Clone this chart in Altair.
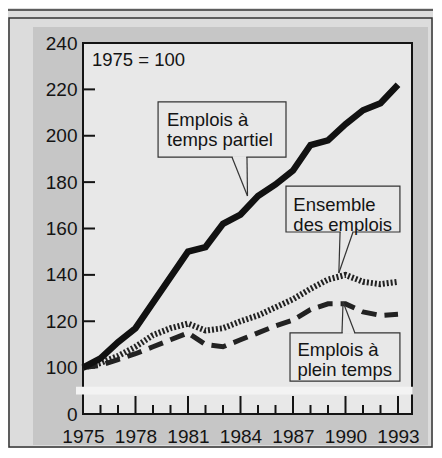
import altair as alt
import pandas as pd

# ---- data ----
years = list(range(1975, 1994))
partiel = [100, 104, 111, 117, 128, 139, 150, 152, 162, 166, 174, 179, 185, 196, 198, 205, 211, 214, 222]
ensemble = [100, 102, 105, 109, 114, 117, 119, 116, 117, 120, 122.5, 126, 129.5, 134, 138, 140, 137, 136, 137]
plein = [100, 101, 103.5, 106, 109, 112, 115, 110, 109, 112, 115, 118, 120.5, 125, 127.5, 127.5, 124, 122.5, 123]

y_ticks = [80, 100, 120, 140, 160, 180, 200, 220, 240]
x_labels = [1975, 1978, 1981, 1984, 1987, 1990, 1993]
major_years = [1978, 1981, 1984, 1987, 1990, 1993]
minor_years = [y for y in years[1:] if y not in major_years]
inner_y_ticks = [100, 120, 140, 160, 180, 200, 220]

FONT = "Liberation Sans"
FS = 19
INK = "#141414"
W, H = 329, 371

xs = alt.Scale(domain=[1975, 1993.8], nice=False, zero=False)
ys = alt.Scale(domain=[80, 240], nice=False, zero=False)
xaxis = alt.Axis(values=x_labels, format="d", title=None, domain=False, ticks=False, grid=False,
                 labelFontSize=FS, labelFont=FONT, labelColor=INK, labelPadding=13, labelFlush=False,
                 zindex=3)
yaxis = alt.Axis(values=y_ticks, labelExpr="datum.value == 80 ? '0' : datum.label", title=None,
                 domain=False, ticks=False, grid=False, labelFontSize=FS, labelFont=FONT,
                 labelColor=INK, labelPadding=6, zindex=3)


def X(f):
    return alt.X(f, type="quantitative", scale=xs, axis=xaxis)


def Y(f):
    return alt.Y(f, type="quantitative", scale=ys, axis=yaxis)


one = pd.DataFrame({"a": [0]})

# decorations around the plot (page furniture)
outer = alt.Chart(one).mark_rect(fill="#dcdcdc", stroke="#333", strokeWidth=1.5).encode(
    x=alt.value(-74), x2=alt.value(W + 20), y=alt.value(-25), y2=alt.value(H + 33))
topline = alt.Chart(one).mark_rule(color="#333", strokeWidth=1.5).encode(
    x=alt.value(-75), x2=alt.value(W + 21), y=alt.value(-33))
shade = alt.Chart(one).mark_rect(fill="#c6c6c6").encode(
    x=alt.value(-50), x2=alt.value(W + 16), y=alt.value(-16), y2=alt.value(H + 31))

# plot frame
frame_df = pd.DataFrame({"x0": [1975], "x1": [1993.8], "y0": [80], "y1": [240]})
frame = alt.Chart(frame_df).mark_rect(fill="#e8e8e8", stroke=INK, strokeWidth=2).encode(
    x=X("x0"), x2="x1", y=Y("y0"), y2="y1")

# inward ticks
yt = alt.Chart(pd.DataFrame({"v": inner_y_ticks})).mark_rule(color=INK, strokeWidth=2).encode(
    y=Y("v"), x=alt.value(0), x2=alt.value(12))
xt_major = alt.Chart(pd.DataFrame({"yr": major_years})).mark_rule(color=INK, strokeWidth=2).encode(
    x=X("yr"), y=alt.value(H), y2=alt.value(H - 18))
xt_minor = alt.Chart(pd.DataFrame({"yr": minor_years})).mark_rule(color=INK, strokeWidth=2).encode(
    x=X("yr"), y=alt.value(H), y2=alt.value(H - 9))

# series
df = pd.DataFrame({"year": years, "partiel": partiel, "ensemble": ensemble, "plein": plein})
l_plein = alt.Chart(df).mark_line(color="#222", strokeWidth=5, strokeDash=[15, 8]).encode(
    x=X("year"), y=Y("plein"))
l_ens = alt.Chart(df).mark_line(color="#222", strokeWidth=6, strokeDash=[2, 2]).encode(
    x=X("year"), y=Y("ensemble"))
l_part = alt.Chart(df).mark_line(color="#111", strokeWidth=6.5).encode(
    x=X("year"), y=Y("partiel"))

# axis break band
band_df = pd.DataFrame({"x0": [1974.6], "x1": [1993.85], "y0": [88.4], "y1": [91.8]})
band = alt.Chart(band_df).mark_rect(fill="#f3f3f3").encode(
    x=X("x0"), x2="x1", y=Y("y0"), y2="y1")

# callout boxes
boxes_df = pd.DataFrame({
    "x0": [1979.29, 1986.6, 1986.83],
    "x1": [1986.6, 1993.11, 1993.11],
    "y0": [190.8, 158.5, 94.2],
    "y1": [214.6, 178.3, 114.95],
})
boxes = alt.Chart(boxes_df).mark_rect(fill="#e8e8e8", stroke="#333", strokeWidth=1.2).encode(
    x=X("x0"), x2="x1", y=Y("y0"), y2="y1")

gap_df = pd.DataFrame({"x0": [1983.55, 1989.73, 1989.84], "x1": [1984.33, 1990.39, 1990.5],
                       "y": [190.8, 158.5, 114.95]})
gaps = alt.Chart(gap_df).mark_rule(color="#e8e8e8", strokeWidth=2).encode(
    x=X("x0"), x2="x1", y=Y("y"))

ptr_df = pd.DataFrame({
    "x0": [1983.51, 1984.37, 1989.69, 1990.43, 1989.8, 1990.54],
    "y0": [190.8, 190.8, 158.5, 158.5, 114.95, 114.95],
    "x1": [1984.4, 1984.4, 1989.62, 1989.62, 1989.86, 1989.86],
    "y1": [174.0, 174.0, 140.8, 140.8, 128.3, 128.3],
})
ptrs = alt.Chart(ptr_df).mark_rule(color="#333", strokeWidth=1.2).encode(
    x=X("x0"), y=Y("y0"), x2="x1", y2="y1")

txt_df = pd.DataFrame({
    "t": ["Emplois à", "temps partiel", "Ensemble", "des emplois", "Emplois à", "plein temps", "1975 = 100"],
    "x": [1979.8, 1979.8, 1987.02, 1987.02, 1987.25, 1987.25, 1975.51],
    "y": [206.6, 198.0, 170.1, 161.5, 107.6, 99.0, 232.7],
})
texts = alt.Chart(txt_df).mark_text(align="left", baseline="middle", font=FONT, fontSize=18.5, color=INK).encode(
    x=X("x"), y=Y("y"), text="t:N")

chart = alt.layer(
    outer, topline, shade, frame, yt, xt_major, xt_minor,
    l_plein, l_ens, l_part, band, boxes, gaps, ptrs, texts,
).properties(
    width=W, height=H,
    autosize=alt.AutoSizeParams(type="none"),
    padding={"left": 75, "top": 35, "right": 21, "bottom": 34},
    background="#dcdcdc",
).configure_view(stroke=None)

chart.save("out.html", embed_options={"renderer": "svg", "actions": False})
